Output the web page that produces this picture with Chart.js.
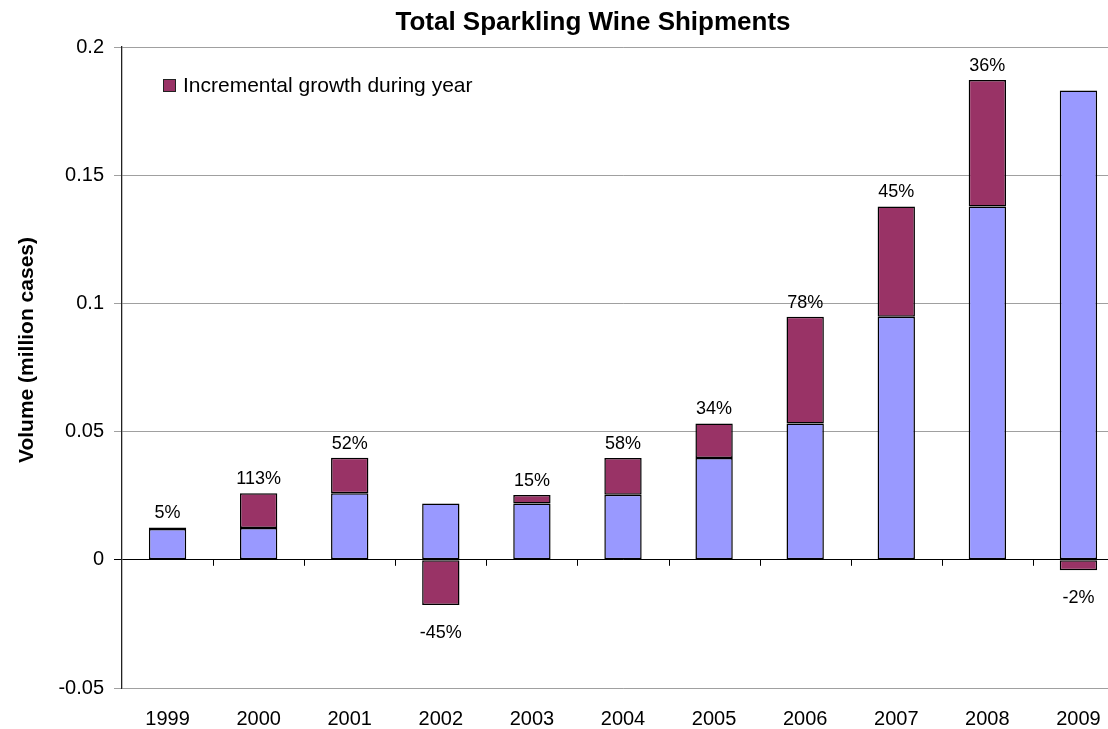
<!DOCTYPE html>
<html>
<head>
<meta charset="utf-8">
<script src="https://cdn.jsdelivr.net/npm/chart.js@4.4.1/dist/chart.umd.min.js"></script>
<style>
  html, body { margin: 0; padding: 0; background: #fff; overflow: hidden; }
  #wrap { width: 1124px; height: 729px; }
</style>
</head>
<body>
<div id="wrap"><canvas id="shipments" width="1124" height="729"></canvas></div>
<script>
const FONT = '"Liberation Sans", Arial, Helvetica, sans-serif';

// Shipments in million cases
const years = ['1999', '2000', '2001', '2002', '2003', '2004', '2005', '2006', '2007', '2008', '2009'];
const baseVolume = [0.0120, 0.0124, 0.0260, 0.0220, 0.0220, 0.0254, 0.0397, 0.0532, 0.0948, 0.1378, 0.1830];
const incrementVolume = [0.0006, 0.0136, 0.0138, -0.0176, 0.0033, 0.0143, 0.0135, 0.0416, 0.0430, 0.0493, -0.0041];
const growthLabels = ['5%', '113%', '52%', '-45%', '15%', '58%', '34%', '78%', '45%', '36%', '-2%'];
const yTicks = [-0.05, 0, 0.05, 0.1, 0.15, 0.2];

const canvas = document.getElementById('shipments');
const ctx = canvas.getContext('2d');

// Title, axis title, inside legend, growth labels and the category ticks on the zero line
const decorPlugin = {
    id: 'decor',
    afterDraw: (chart) => {
        const { ctx, chartArea, scales } = chart;
        const x = scales.x, y = scales.y;
        ctx.save();

        // title
        ctx.fillStyle = '#000';
        ctx.font = 'bold 26px ' + FONT;
        ctx.textAlign = 'center';
        ctx.textBaseline = 'alphabetic';
        ctx.fillText('Total Sparkling Wine Shipments', 593, 30);

        // y axis title
        ctx.save();
        ctx.translate(27, 350);
        ctx.rotate(-Math.PI / 2);
        ctx.font = 'bold 21px ' + FONT;
        ctx.textBaseline = 'middle';
        ctx.fillText('Volume (million cases)', 0, 0);
        ctx.restore();

        // category ticks hanging from the zero line
        const zeroY = y.getPixelForValue(0);
        const step = x.getPixelForValue(1) - x.getPixelForValue(0);
        ctx.strokeStyle = '#000';
        ctx.lineWidth = 1;
        ctx.beginPath();
        for (let i = 1; i <= years.length; i++) {
            const px = Math.round(x.getPixelForValue(i) - step / 2) + 0.5;
            ctx.moveTo(px, zeroY);
            ctx.lineTo(px, zeroY + 6);
        }
        ctx.stroke();

        // legend for the increment series only
        const ds = chart.data.datasets[1];
        const lx = chartArea.left + 41, ly = chartArea.top + 32;
        ctx.fillStyle = ds.backgroundColor;
        ctx.fillRect(lx, ly, 13, 13);
        ctx.strokeStyle = '#222';
        ctx.strokeRect(lx + 0.5, ly + 0.5, 12, 12);
        ctx.fillStyle = '#000';
        ctx.font = '21px ' + FONT;
        ctx.textAlign = 'left';
        ctx.textBaseline = 'middle';
        ctx.fillText(ds.label, lx + 20, ly + 7);

        // growth percentages above (or below) each increment bar
        const meta = chart.getDatasetMeta(1);
        ctx.font = '18px ' + FONT;
        ctx.textAlign = 'center';
        meta.data.forEach((bar, i) => {
            const v = incrementVolume[i];
            const ty = v >= 0 ? bar.y - 14 : bar.y + 28;
            ctx.fillText(growthLabels[i], bar.x, ty);
        });

        ctx.restore();
    }
};

const shipmentsChart = new Chart(ctx, {
    type: 'bar',
    data: {
        labels: years,
        datasets: [{
            label: 'Volume',
            data: baseVolume,
            backgroundColor: '#9999FF',
            borderColor: '#000',
            borderWidth: 1.5,
            borderSkipped: false,
            barPercentage: 0.41,
            categoryPercentage: 1
        }, {
            label: 'Incremental growth during year',
            data: incrementVolume,
            backgroundColor: '#993366',
            borderColor: '#000',
            borderWidth: 1.5,
            borderSkipped: false,
            barPercentage: 0.41,
            categoryPercentage: 1
        }]
    },
    options: {
        responsive: false,
        animation: false,
        layout: {
            padding: { top: 47, right: 0, bottom: 0, left: 0 }
        },
        plugins: {
            legend: { display: false },
            title: { display: false },
            tooltip: { enabled: false }
        },
        scales: {
            x: {
                stacked: true,
                grid: { display: false, drawTicks: false },
                border: { display: false },
                ticks: {
                    color: '#000',
                    padding: 19,
                    font: { family: FONT, size: 20 }
                },
                afterFit: (scale) => { scale.height = 41; }
            },
            y: {
                stacked: true,
                min: -0.05,
                max: 0.2,
                afterBuildTicks: (scale) => {
                    scale.ticks = yTicks.map(v => ({ value: v }));
                },
                grid: {
                    color: (c) => (c.tick && c.tick.value === 0) ? '#000' : '#a0a0a0',
                    lineWidth: 1,
                    tickLength: 8
                },
                border: { display: true, color: '#222', width: 1.3 },
                ticks: {
                    color: '#000',
                    padding: 10,
                    font: { family: FONT, size: 20 },
                    callback: (v) => String(v)
                },
                afterFit: (scale) => { scale.width = 122; }
            }
        }
    },
    plugins: [decorPlugin]
});
</script>
</body>
</html>
